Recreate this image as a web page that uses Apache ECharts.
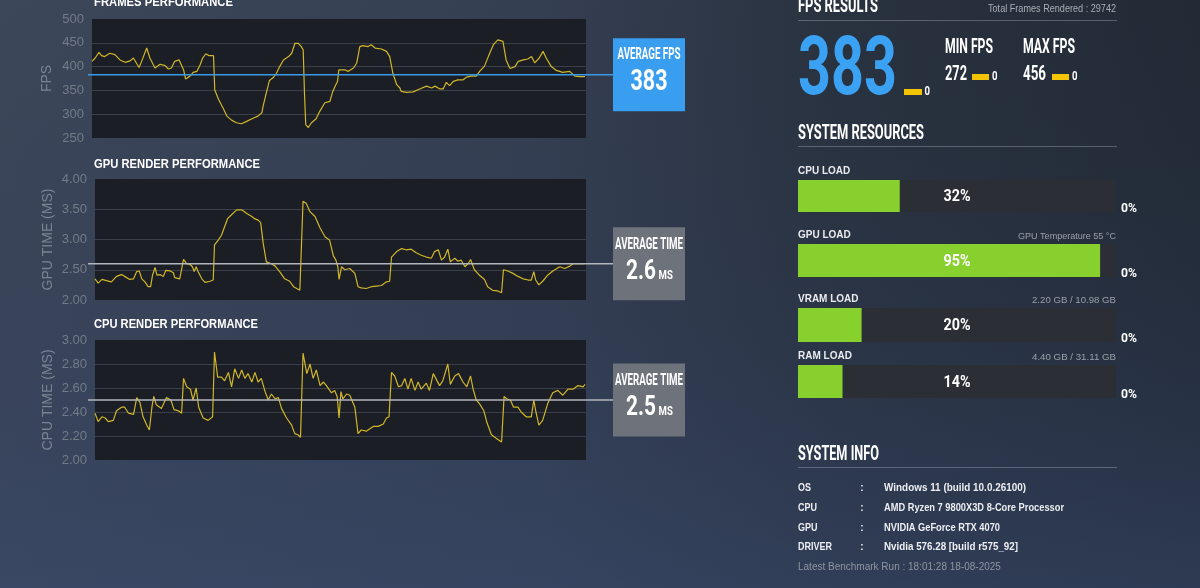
<!DOCTYPE html>
<html><head><meta charset="utf-8">
<script src="https://cdn.jsdelivr.net/npm/echarts@6/dist/echarts.min.js"></script>
<style>html,body{margin:0;padding:0;background:#323c4f;}#c{width:1200px;height:588px;}</style>
</head><body><div id="c"></div>
<script>
// ---------------- DATA ----------------
const totalFrames = 29742;
const avgFps = 383, minFps = 272, maxFps = 456;
const avgGpu = 2.6, avgCpu = 2.5;
const runSeconds = totalFrames / avgFps;

const fpsT = [0,0.5,1.1,1.5,2.0,2.8,3.6,4.4,5.2,6.0,6.5,7.0,7.4,7.8,8.6,9.1,9.9,10.7,11.5,12.0,12.5,13.0,13.7,14.4,14.7,15.4,15.9,16.5,17.0,17.4,17.9,18.4,19.1,19.3,19.9,20.6,21.2,22.0,22.7,23.5,24.3,25.4,26.1,26.7,26.9,27.4,27.9,28.5,29.0,29.5,30.1,30.9,31.4,31.9,32.4,32.9,33.2,33.4,33.6,34.0,34.5,35.2,35.8,36.6,37.4,37.8,38.2,38.6,38.8,39.8,40.3,41.1,41.6,42.1,42.6,43.4,43.9,44.5,45.5,46.3,46.8,47.3,47.9,48.4,48.6,49.4,50.5,51.5,52.6,53.4,53.9,54.7,55.2,55.7,56.2,56.8,57.5,58.3,58.9,59.6,60.4,61.0,61.7,62.3,63.1,63.8,64.6,65.1,65.7,66.5,67.0,67.8,68.5,69.1,69.6,70.3,70.9,71.4,72.2,73.0,74.0,75.1,75.9,76.7,77.5];
const fpsV = [411,418,430,423,421,428,425,414,409,412,418,407,398,411,439,418,397,405,402,395,397,411,414,393,374,380,388,390,404,418,427,423,423,351,331,313,296,287,282,280,285,292,296,303,317,345,371,377,386,400,414,421,428,449,449,442,435,345,278,272,282,290,306,324,327,346,358,369,393,393,390,397,407,442,444,442,446,439,437,432,421,386,362,355,348,346,347,353,359,355,359,353,353,367,360,369,372,372,378,380,380,391,401,421,446,456,453,414,396,400,411,414,416,421,408,418,432,418,400,392,388,390,380,379,379];

const gpuT = [0,0.5,1.1,1.8,2.6,3.4,4.2,5.0,5.5,6.1,6.6,7.0,7.4,7.9,8.4,8.8,9.1,9.5,9.8,10.3,10.8,11.2,11.9,12.4,12.6,13.4,13.7,14.0,14.5,15.0,15.4,15.7,16.0,16.3,16.9,17.4,18.2,18.7,18.9,19.5,20.0,20.6,21.0,21.6,22.4,23.2,24.0,24.8,25.3,25.8,26.2,26.6,27.1,27.9,28.5,29.2,30.0,30.8,31.4,31.9,32.4,32.7,32.9,33.4,34.0,34.8,35.6,36.4,37.1,37.7,38.1,38.4,38.6,39.0,39.5,40.3,41.1,41.6,42.1,42.9,43.7,44.5,45.3,46.1,46.6,46.9,47.7,48.5,49.2,50.0,50.8,51.6,52.4,53.2,53.7,54.3,54.8,55.3,55.8,56.2,56.9,57.4,57.9,58.5,59.0,59.4,60.0,60.8,61.6,62.1,62.9,63.7,64.3,64.6,65.3,66.1,66.9,67.7,68.5,69.0,69.4,69.7,70.2,70.8,71.6,72.4,73.5,74.3,75.1,75.6,76.6,77.4];
const gpuV = [2.35,2.28,2.34,2.32,2.30,2.39,2.42,2.37,2.34,2.35,2.47,2.48,2.35,2.30,2.22,2.22,2.41,2.54,2.41,2.42,2.39,2.49,2.48,2.45,2.37,2.35,2.36,2.67,2.60,2.59,2.55,2.47,2.55,2.47,2.35,2.29,2.31,2.33,2.91,2.99,3.07,3.24,3.35,3.41,3.49,3.49,3.43,3.38,3.34,3.32,3.28,2.94,2.63,2.60,2.56,2.47,2.35,2.31,2.22,2.19,2.16,2.16,3.63,3.60,3.46,3.38,3.19,3.04,2.99,2.73,2.66,2.55,2.34,2.55,2.50,2.52,2.44,2.22,2.20,2.19,2.22,2.23,2.24,2.30,2.31,2.71,2.80,2.85,2.83,2.84,2.78,2.74,2.71,2.69,2.80,2.83,2.66,2.71,2.84,2.63,2.69,2.64,2.66,2.55,2.60,2.67,2.50,2.41,2.34,2.22,2.16,2.15,2.12,2.50,2.48,2.44,2.39,2.35,2.33,2.33,2.47,2.33,2.25,2.31,2.41,2.48,2.55,2.52,2.56,2.60,2.60,2.60];

const cpuT = [0,0.5,1.1,1.6,2.1,2.9,3.4,4.2,4.7,5.3,6.1,6.6,7.1,7.6,8.2,8.6,9.0,9.3,9.7,10.5,11.3,12.0,12.5,13.2,13.7,14.0,14.5,15.1,15.5,16.0,16.4,17.1,17.9,18.6,18.9,19.4,20.0,20.5,21.1,21.6,22.1,22.7,23.2,23.7,24.2,24.8,25.3,25.8,26.3,26.9,27.4,27.9,28.5,29.0,29.5,30.3,31.1,31.6,32.1,32.5,32.9,33.5,34.0,34.5,35.0,35.6,36.1,36.6,37.4,37.9,38.3,38.6,38.9,39.2,39.8,40.3,41.1,41.6,42.1,42.9,44.0,44.8,45.6,46.1,46.5,46.9,47.4,48.0,48.5,49.0,49.5,50.0,50.6,51.1,51.6,52.4,52.9,53.5,54.0,54.5,55.0,55.8,56.2,56.9,57.5,58.2,58.8,59.4,59.8,60.3,60.8,61.5,62.0,62.7,63.5,64.3,64.7,65.1,65.7,66.2,66.9,67.4,68.2,69.0,69.4,69.7,70.2,70.8,71.6,72.4,73.2,74.0,74.8,75.6,76.4,77.2,77.5];
const cpuV = [2.39,2.32,2.36,2.35,2.32,2.33,2.41,2.44,2.44,2.39,2.38,2.52,2.48,2.36,2.29,2.25,2.44,2.53,2.46,2.43,2.52,2.50,2.42,2.41,2.39,2.68,2.61,2.59,2.50,2.60,2.44,2.35,2.33,2.36,2.90,2.69,2.69,2.66,2.73,2.61,2.76,2.68,2.75,2.68,2.72,2.65,2.73,2.65,2.68,2.57,2.50,2.55,2.51,2.52,2.43,2.35,2.29,2.22,2.21,2.19,2.89,2.72,2.80,2.68,2.75,2.62,2.65,2.62,2.56,2.58,2.53,2.35,2.57,2.51,2.55,2.54,2.44,2.22,2.25,2.24,2.28,2.28,2.30,2.35,2.36,2.73,2.70,2.61,2.62,2.68,2.59,2.68,2.58,2.65,2.59,2.64,2.58,2.72,2.67,2.62,2.66,2.80,2.63,2.70,2.72,2.65,2.61,2.70,2.59,2.50,2.47,2.41,2.31,2.21,2.18,2.15,2.53,2.51,2.50,2.44,2.44,2.40,2.36,2.36,2.50,2.41,2.29,2.33,2.47,2.56,2.58,2.54,2.59,2.59,2.62,2.61,2.63];

const chartTitles = ['FRAMES PERFORMANCE', 'GPU RENDER PERFORMANCE', 'CPU RENDER PERFORMANCE'];
const axisNames = ['FPS', 'GPU TIME (MS)', 'CPU TIME (MS)'];
const fpsTicks = [250, 500, 50];   // min, max, interval
const gpuTicks = [2, 4, 0.5];
const cpuTicks = [2, 3, 0.2];

const resNames = ['CPU LOAD', 'GPU LOAD', 'VRAM LOAD', 'RAM LOAD'];
const resLoads = [32, 95, 20, 14];
const resSecondary = [0, 0, 0, 0];
const resNotes = ['', 'GPU Temperature 55 °C', '2.20 GB / 10.98 GB', '4.40 GB / 31.11 GB'];
const fpsDeltas = [0, 0, 0];

const infoLabels = ['OS', 'CPU', 'GPU', 'DRIVER'];
const infoValues = ['Windows 11 (build 10.0.26100)', 'AMD Ryzen 7 9800X3D 8-Core Processor', 'NVIDIA GeForce RTX 4070', 'Nvidia 576.28 [build r575_92]'];
const benchmarkRun = 'Latest Benchmark Run : 18:01:28 18-08-2025';

// ---------------- LAYOUT ----------------
const plots = [
  {left: 92, top: 19, width: 494, height: 119},
  {left: 95, top: 179, width: 491, height: 121},
  {left: 95, top: 340, width: 491, height: 120}
];
const nameGaps = [38, 40, 40];
const titleY = [3, 165, 325];
const titleW = [139, 166, 164];
const barTops = [180, 244, 308, 365];
const barHeights = [32, 33, 34, 33];
const barLeft = 798, barWidth = 318;
const noteW = [0, 98, 84, 84];
const infoRowsY = [488, 508, 528, 547];
const infoValueW = [142, 180, 116, 134];

const COND = 'Roboto';
const SANS = '"Liberation Sans", Arial, sans-serif';
const LINE = '#d0b628';
const GREEN = '#88d02e';
const BLUE = '#3a9ef0';

const mc = document.createElement('canvas').getContext('2d');
function tw(text, font) { mc.font = font; return mc.measureText(text).width; }
function cond(text, x, y, size, w, fill, align) {
  const font = 'bold ' + size + 'px ' + COND;
  const sx = w / tw(text, font);
  align = align || 'left';
  return {type: 'text', x: x, y: y + size * 0.07, scaleX: sx, silent: true, z: 20,
    style: {text: text, font: font, fill: fill, align: align, verticalAlign: 'middle', textAlign: align, textVerticalAlign: 'middle'}};
}
function plain(text, x, y, size, fill, weight, align, w, sxFixed) {
  align = align || 'left';
  const font = (weight || 'normal') + ' ' + size + 'px ' + SANS;
  const sx = w ? w / tw(text, font) : (sxFixed || 1);
  return {type: 'text', x: x, y: y, scaleX: sx, silent: true, z: 20,
    style: {text: text, font: font, fill: fill, align: align, verticalAlign: 'middle', textAlign: align, textVerticalAlign: 'middle'}};
}

const chart = echarts.init(document.getElementById('c'), null, {renderer: 'canvas', width: 1200, height: 588});

const ticks = [fpsTicks, gpuTicks, cpuTicks];
const seriesData = [[fpsT, fpsV], [gpuT, gpuV], [cpuT, cpuV]];

const grids = [], xAxes = [], yAxes = [], series = [];
plots.forEach(function (p, i) {
  grids.push({left: p.left, top: p.top, width: p.width, height: p.height, show: true,
    backgroundColor: '#1b1e25', borderWidth: 0, containLabel: false});
  xAxes.push({type: 'value', gridIndex: i, min: 0, max: runSeconds, show: false});
  yAxes.push({type: 'value', gridIndex: i, min: ticks[i][0], max: ticks[i][1], interval: ticks[i][2],
    name: axisNames[i], nameLocation: 'middle', nameGap: nameGaps[i], nameRotate: 90,
    nameTextStyle: {color: '#7b8392', fontSize: 14, fontFamily: SANS},
    axisLine: {show: false}, axisTick: {show: false},
    axisLabel: {color: '#737b89', fontSize: 13, fontFamily: SANS, margin: 8,
      formatter: function (v) { return i === 0 ? String(Math.round(v)) : v.toFixed(2); }},
    splitLine: {show: true, showMinLine: false, showMaxLine: false, lineStyle: {color: '#3a3f49', width: 1}}
  });
  const d = seriesData[i];
  series.push({type: 'line', xAxisIndex: i, yAxisIndex: i, showSymbol: false, symbol: 'none',
    lineStyle: {color: LINE, width: 1.2}, data: d[0].map(function (t, k) { return [t, d[1][k]]; }),
    animation: false, z: 5});
});

resLoads.forEach(function (v, i) {
  const gi = 3 + i;
  grids.push({left: barLeft, top: barTops[i], width: barWidth, height: barHeights[i], show: false});
  xAxes.push({type: 'value', gridIndex: gi, min: 0, max: 100, show: false});
  yAxes.push({type: 'category', gridIndex: gi, data: [resNames[i]], show: false});
  series.push({type: 'bar', xAxisIndex: gi, yAxisIndex: gi, data: [100], barWidth: '100%',
    itemStyle: {color: '#2b2e35'}, silent: true, animation: false, z: 2});
  series.push({type: 'bar', xAxisIndex: gi, yAxisIndex: gi, data: [v], barWidth: '100%', barGap: '-100%',
    itemStyle: {color: GREEN}, silent: true, animation: false, z: 3});
});

chart.setOption({
  animation: false,
  grid: grids, xAxis: xAxes, yAxis: yAxes, series: series
});

// ---------------- GRAPHICS ----------------
const G = [];
// background
G.push({type: 'rect', shape: {x: 0, y: 0, width: 1200, height: 588}, z: -10, silent: true,
  style: {fill: new echarts.graphic.LinearGradient(0, 0, 1, 0, [
    {offset: 0, color: '#3d475a'}, {offset: 0.45, color: '#353f52'}, {offset: 0.7, color: '#29323f'}, {offset: 1, color: '#222a35'}])}});
G.push({type: 'rect', shape: {x: 0, y: 0, width: 1200, height: 588}, z: -9, silent: true,
  style: {fill: new echarts.graphic.LinearGradient(0, 0, 0, 1, [
    {offset: 0, color: 'rgba(40,50,70,0)'}, {offset: 0.55, color: 'rgba(45,60,90,0.25)'}, {offset: 1, color: 'rgba(55,72,108,0.55)'}])}});

// titles of charts
chartTitles.forEach(function (t, i) { G.push(plain(t, 94, titleY[i], 12, '#ffffff', 'bold', 'left', titleW[i])); });

// average lines + boxes
const avgs = [avgFps, avgGpu, avgCpu];
const avgLineColors = ['#3b9be6', '#b3b6bc', '#b3b6bc'];
const boxColors = [BLUE, '#6d727b', '#6d727b'];
const boxX = 613, boxW = 72, boxH = 73;
avgs.forEach(function (a, i) {
  const py = chart.convertToPixel({yAxisIndex: i}, a);
  G.push({type: 'line', shape: {x1: 88, y1: py, x2: boxX, y2: py}, z: 8, silent: true,
    style: {stroke: avgLineColors[i], lineWidth: 1.5}});
  const top = py - boxH / 2;
  G.push({type: 'rect', shape: {x: boxX, y: top, width: boxW, height: boxH}, z: 9, silent: true,
    style: {fill: boxColors[i]}});
  const cx = boxX + boxW / 2;
  if (i === 0) {
    G.push(cond('AVERAGE FPS', cx, top + 16, 16, 63, '#ffffff', 'center'));
    G.push(cond(String(a), cx, top + 42.5, 30, 37, '#ffffff', 'center'));
  } else {
    G.push(cond('AVERAGE TIME', cx, top + 16.5, 16, 68, '#ffffff', 'center'));
    G.push(cond(a.toFixed(1), 656, top + 42.5, 28, 30, '#ffffff', 'right'));
    G.push(cond('MS', 658.5, top + 48, 12, 14.3, '#ffffff', 'left'));
  }
});

// FPS RESULTS
const headColor = '#ffffff';
const ruleColor = 'rgba(150,160,178,0.45)';
G.push(cond('FPS RESULTS', 798, 6, 20, 80, headColor));
G.push(plain('Total Frames Rendered : ' + totalFrames, 1116, 9, 10, '#a9aeb6', 'normal', 'right', 128));
G.push({type: 'rect', shape: {x: 798, y: 20, width: 319, height: 1}, style: {fill: ruleColor}, z: 20, silent: true});
G.push(cond(String(avgFps), 798, 67.5, 82, 99, '#3ba1f2'));
G.push({type: 'rect', shape: {x: 904, y: 89, width: 18, height: 6}, style: {fill: '#f5c400'}, z: 20, silent: true});
G.push(cond(String(fpsDeltas[0]), 924.5, 91.5, 12, 5.5, '#ffffff'));
G.push(cond('MIN FPS', 945, 47, 20, 48, headColor));
G.push(cond('MAX FPS', 1023, 47, 20, 52, headColor));
G.push(cond(String(minFps), 945, 74, 20, 22, headColor));
G.push(cond(String(maxFps), 1023, 74, 20, 23, headColor));
G.push({type: 'rect', shape: {x: 972, y: 74, width: 17, height: 6}, style: {fill: '#f5c400'}, z: 20, silent: true});
G.push({type: 'rect', shape: {x: 1052, y: 74, width: 17, height: 6}, style: {fill: '#f5c400'}, z: 20, silent: true});
G.push(cond(String(fpsDeltas[1]), 992, 76, 12, 5.5, '#ffffff'));
G.push(cond(String(fpsDeltas[2]), 1072, 76, 12, 5.5, '#ffffff'));

// SYSTEM RESOURCES
G.push(cond('SYSTEM RESOURCES', 798, 133, 20, 126, headColor));
G.push({type: 'rect', shape: {x: 798, y: 146, width: 319, height: 1}, style: {fill: ruleColor}, z: 20, silent: true});
resNames.forEach(function (n, i) {
  const top = barTops[i], h = barHeights[i];
  G.push(plain(n, 798, top - 9, 10, '#e9ebef', 'bold'));
  if (resNotes[i]) G.push(plain(resNotes[i], 1116, top - 8, 9.5, '#9aa0a9', 'normal', 'right', noteW[i]));
  G.push(cond(resLoads[i] + '%', barLeft + barWidth / 2, top + h / 2, 16, 27, '#ffffff', 'center'));
  G.push(cond(resSecondary[i] + '%', 1121, top + h - 4, 12, 16, '#ffffff'));
});

// SYSTEM INFO
G.push(cond('SYSTEM INFO', 798, 454, 20, 81, headColor));
G.push({type: 'rect', shape: {x: 798, y: 467, width: 319, height: 1}, style: {fill: ruleColor}, z: 20, silent: true});
infoLabels.forEach(function (l, i) {
  G.push(plain(l, 798, infoRowsY[i], 10, '#eceef2', 'bold', 'left', 0, 0.9));
  G.push(plain(':', 862, infoRowsY[i], 10, '#eceef2', 'bold', 'center'));
  G.push(plain(infoValues[i], 884, infoRowsY[i], 10, '#eceef2', 'bold', 'left', infoValueW[i]));
});
G.push(plain(benchmarkRun, 798, 567, 10, '#8e95a0', 'normal'));

chart.setOption({graphic: {elements: G}});
</script></body></html>
